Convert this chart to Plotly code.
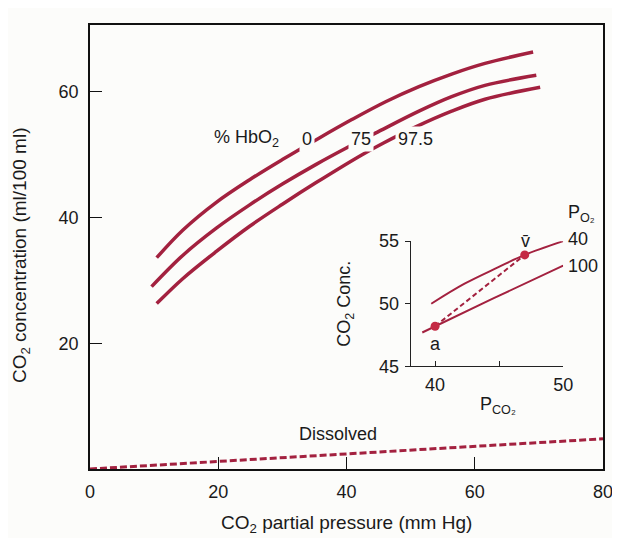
import plotly.graph_objects as go

# ---- main panel data ----
pco2_hb0 = [10.4, 14.5, 19.7, 24.9, 30.0, 35.7, 40.9, 46.1, 51.3, 56.4, 61.6, 69.1]
co2_hb0 = [33.6, 38.0, 42.4, 46.0, 49.2, 52.6, 55.6, 58.4, 60.8, 62.8, 64.5, 66.3]

pco2_hb75 = [9.6, 14.5, 19.7, 24.9, 30.0, 35.2, 39.9, 44.5, 51.3, 56.4, 61.6, 69.6]
co2_hb75 = [29.0, 34.0, 38.3, 42.0, 45.3, 48.4, 51.0, 53.4, 56.9, 59.2, 61.0, 62.6]

pco2_hb975 = [10.4, 14.5, 19.7, 24.9, 30.0, 35.2, 42.3, 45.7, 50.8, 56.4, 61.6, 70.2]
co2_hb975 = [26.3, 30.3, 34.6, 38.6, 42.1, 45.5, 49.9, 51.8, 54.4, 56.9, 58.8, 60.7]

pco2_dissolved = [0, 80]
co2_dissolved = [0, 4.8]

x_ticks = [0, 20, 40, 60, 80]
y_ticks = [20, 40, 60]

# ---- inset data ----
inset_pco2_po2_40 = [39.7, 42.3, 44.9, 47.0, 50.0]
inset_co2_po2_40 = [50.0, 51.6, 52.9, 53.9, 55.0]
inset_pco2_po2_100 = [39.0, 44.5, 50.0]
inset_co2_po2_100 = [47.7, 50.4, 53.05]
point_a = (40.0, 48.2)
point_v = (47.0, 53.9)
inset_x_ticks = [40, 45, 50]
inset_x_ticktext = ["40", "", "50"]
inset_y_ticks = [45, 50, 55]

RED = "#a3213f"
DOT = "#c42a44"
BG = "#fcfcfa"
FONT = "Liberation Sans, Arial, sans-serif"

fig = go.Figure()

for xs, ys in [(pco2_hb0, co2_hb0), (pco2_hb75, co2_hb75), (pco2_hb975, co2_hb975)]:
    fig.add_trace(go.Scatter(x=xs, y=ys, mode="lines",
                             line=dict(color=RED, width=3.5, shape="spline", smoothing=1.0),
                             xaxis="x", yaxis="y", showlegend=False, hoverinfo="skip"))

fig.add_trace(go.Scatter(x=pco2_dissolved, y=co2_dissolved, mode="lines",
                         line=dict(color=RED, width=3, dash="7px,3px"),
                         xaxis="x", yaxis="y", showlegend=False, hoverinfo="skip"))

# inset traces
fig.add_trace(go.Scatter(x=inset_pco2_po2_40, y=inset_co2_po2_40, mode="lines",
                         line=dict(color=RED, width=2, shape="spline"),
                         xaxis="x2", yaxis="y2", showlegend=False, hoverinfo="skip"))
fig.add_trace(go.Scatter(x=inset_pco2_po2_100, y=inset_co2_po2_100, mode="lines",
                         line=dict(color=RED, width=2, shape="spline"),
                         xaxis="x2", yaxis="y2", showlegend=False, hoverinfo="skip"))
fig.add_trace(go.Scatter(x=[point_a[0], point_v[0]], y=[point_a[1], point_v[1]], mode="lines",
                         line=dict(color=RED, width=2, dash="5px,3px"),
                         xaxis="x2", yaxis="y2", showlegend=False, hoverinfo="skip"))
fig.add_trace(go.Scatter(x=[point_a[0], point_v[0]], y=[point_a[1], point_v[1]], mode="markers",
                         marker=dict(color=DOT, size=9),
                         xaxis="x2", yaxis="y2", showlegend=False, hoverinfo="skip", cliponaxis=False))

tf = dict(family=FONT, size=18, color="#1a1a1a")
tt = dict(family=FONT, size=19, color="#1a1a1a")


def px_x(px):
    return (px - 90) / 515


def px_y(py):
    return (469 - py) / 454


def note(x, y, text, **kw):
    d = dict(x=x, y=y, xref="paper", yref="paper", text=text, showarrow=False,
             font=tf, xanchor="center", yanchor="middle")
    d.update(kw)
    return d


annotations = [
    dict(x=24.4, y=52.5, xref="x", yref="y", text="% HbO<sub>2</sub>", showarrow=False, font=tf),
    dict(x=33.9, y=52.5, xref="x", yref="y", text="0", showarrow=False, font=tf,
         bgcolor=BG, borderpad=2),
    dict(x=42.3, y=52.5, xref="x", yref="y", text="75", showarrow=False, font=tf,
         bgcolor=BG, borderpad=2),
    dict(x=50.7, y=52.5, xref="x", yref="y", text="97.5", showarrow=False, font=tf,
         bgcolor=BG, borderpad=2),
    dict(x=38.7, y=5.6, xref="x", yref="y", text="Dissolved", showarrow=False, font=tf),
    # axis titles
    note(px_x(348), px_y(525), "CO<sub>2</sub> partial pressure (mm Hg)", font=tt),
    note(px_x(21), px_y(250), "CO<sub>2</sub> concentration (ml/100 ml)", font=tt, textangle=-90),
    # inset labels
    note(px_x(347), px_y(300), "CO<sub>2</sub> Conc.", textangle=-90),
    note(px_x(500), px_y(404), "P<sub>CO₂</sub>"),
    dict(x=40.0, y=46.8, xref="x2", yref="y2", text="a", showarrow=False, font=tf),
    note(px_x(527), px_y(236), "v\u0304"),
    note(px_x(568), px_y(234), "40", xanchor="left"),
    note(px_x(568), px_y(261), "100", xanchor="left"),
    note(px_x(583), px_y(208), "P<sub>O₂</sub>"),
]

# the page adds an 8px body margin, so the figure is 612x530 and margins are shifted
fig.update_layout(
    width=612, height=530,
    margin=dict(l=82, r=15, t=7, b=69),
    paper_bgcolor=BG, plot_bgcolor=BG,
    showlegend=False,
    font=dict(family=FONT, size=18, color="#1a1a1a"),
    annotations=annotations,
    xaxis=dict(range=[0, 80], tickvals=x_ticks, showline=True, mirror=True, linecolor="#111",
               linewidth=1.5, ticks="inside", ticklen=12, tickcolor="#111", tickwidth=1,
               showgrid=False, zeroline=False, tickfont=tf, ticklabelstandoff=6, domain=[0, 1]),
    yaxis=dict(range=[0, 70.6], tickvals=y_ticks, showline=True, mirror=True, linecolor="#111",
               linewidth=1.5, ticks="inside", ticklen=12, tickcolor="#111", tickwidth=1,
               showgrid=False, zeroline=False, tickfont=tf, ticklabelstandoff=6, domain=[0, 1]),
    xaxis2=dict(domain=[px_x(412), px_x(565)], anchor="y2", range=[38.1, 50],
                tickvals=inset_x_ticks, ticktext=inset_x_ticktext, showline=True, linecolor="#222",
                linewidth=1.3, ticks="inside", ticklen=5, tickcolor="#222", showgrid=False,
                zeroline=False, tickfont=tf, ticklabelstandoff=2),
    yaxis2=dict(domain=[px_y(364), px_y(236)], anchor="x2", range=[45, 55],
                tickvals=inset_y_ticks, showline=True, linecolor="#222", linewidth=1.3,
                ticks="outside", ticklen=5, tickcolor="#222", showgrid=False, zeroline=False,
                tickfont=tf, ticklabelstandoff=2),
)

fig.write_html("out.html")
